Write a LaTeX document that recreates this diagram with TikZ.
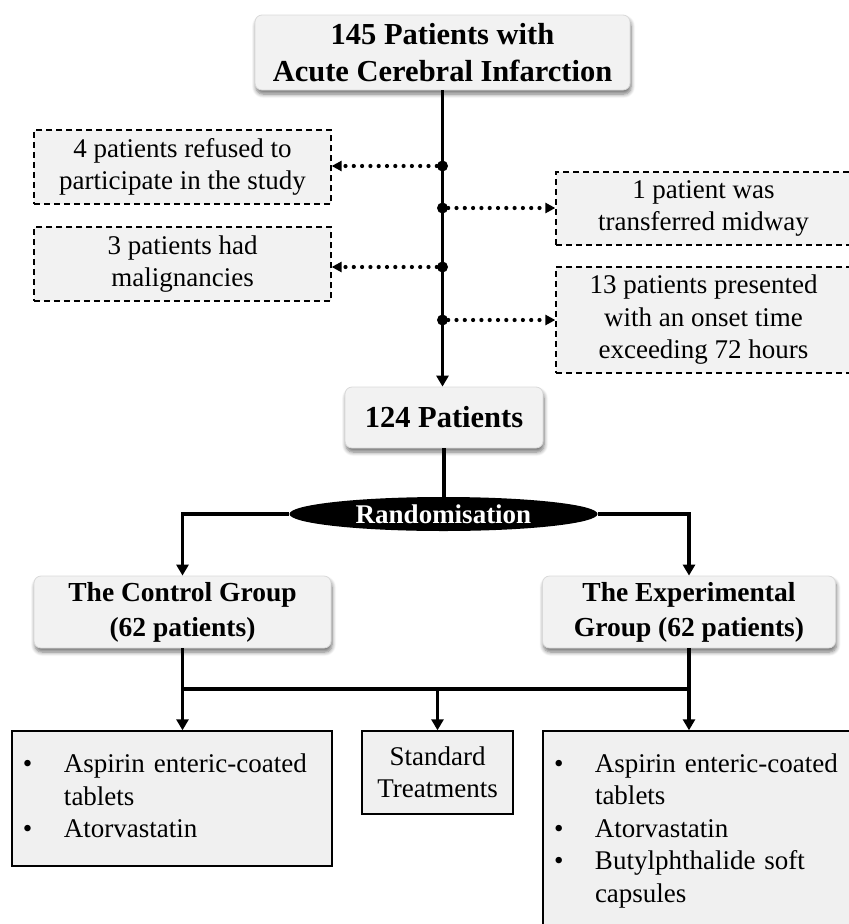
\documentclass[tikz,border=0pt]{standalone}
\usepackage{fontspec}
\setmainfont{Liberation Serif}
\usetikzlibrary{arrows.meta,shapes.geometric,shadows.blur}
\begin{document}
\begin{tikzpicture}[x=1pt,y=-1pt,
  rbox/.style={draw=black!15, line width=0.8pt, fill=black!5, rounded corners=7pt,
    blur shadow={shadow xshift=1pt, shadow yshift=-4pt, shadow blur radius=4pt, shadow blur steps=6, shadow opacity=55},
    align=center, inner sep=0pt},
  bigfont/.style={font=\bfseries\fontsize{30.5}{37}\selectfont},
  grpfont/.style={font=\bfseries\fontsize{27.5}{35}\selectfont},
  exbox/.style={draw, dash pattern=on 6pt off 4pt, line width=1.3pt, fill=black!5,
    font=\fontsize{27}{32.5}\selectfont, align=center, inner sep=0pt},
  lbox/.style={draw, line width=1.4pt, fill=black!6, font=\fontsize{27}{32.5}\selectfont, inner xsep=11pt, inner ysep=0pt},
  dot/.style={circle, fill=black, inner sep=0pt, minimum size=11pt},
  main/.style={line width=3.6pt},
  arr/.style={main, -{Triangle[length=11pt,width=12pt]}},
  dotarr/.style={line width=4.2pt, dash pattern=on 0pt off 8.3pt, line cap=round, -{Triangle[length=10pt,width=10pt]}}
]
\useasboundingbox (0,0) rectangle (849,924);

% top and middle boxes
\node[rbox, bigfont, minimum width=375pt, minimum height=75pt] (top) at (442.5,52.5) {145 Patients with\\Acute Cerebral Infarction};
\node[rbox, bigfont, minimum width=198pt, minimum height=61pt] (n124) at (444,417.5) {124 Patients};

% exclusion boxes
\node[exbox, minimum width=297pt, minimum height=74pt] (ex1) at (182.5,167) {4 patients refused to\\participate in the study};
\node[exbox, minimum width=297pt, minimum height=74pt] (ex2) at (182.5,264) {3 patients had\\malignancies};
\node[exbox, minimum width=295pt, minimum height=73pt] (ex3) at (703.5,208.5) {1 patient was\\transferred midway};
\node[exbox, minimum width=295pt, minimum height=106pt] (ex4) at (703.5,320) {13 patients presented\\with an onset time\\exceeding 72 hours};

% main line
\draw[arr] (top.south) -- (top.south |- n124.north);
\node[dot] (d1) at (442.5,166) {};
\node[dot] (d2) at (442.5,208) {};
\node[dot] (d3) at (442.5,267) {};
\node[dot] (d4) at (442.5,320) {};
\draw[dotarr] (d1) -- (d1 -| ex1.east);
\draw[dotarr] (d2) -- (d2 -| ex3.west);
\draw[dotarr] (d3) -- (d3 -| ex2.east);
\draw[dotarr] (d4) -- (d4 -| ex4.west);

% randomisation
\node[ellipse, fill=black, minimum width=308pt, minimum height=34pt, inner sep=0pt, text=white,
  font=\bfseries\fontsize{27}{32}\selectfont] (rand) at (443.5,514) {Randomisation};
\draw[main] (n124.south) -- (n124.south |- rand.north);

% groups
\node[rbox, grpfont, minimum width=297pt, minimum height=72pt] (ctrl) at (182.5,612) {The Control Group\\(62 patients)};
\node[rbox, grpfont, minimum width=293pt, minimum height=72pt] (exp) at (689,612) {The Experimental\\Group (62 patients)};
\draw[arr] (rand.west) -| (ctrl.north);
\draw[arr] (rand.east) -| (exp.north);

% treatment boxes
\node[lbox, minimum width=320pt, minimum height=135pt, text width=298pt, align=left] (lb) at (172,798.5)
  {\begin{tabular}{@{}p{41pt}@{}l@{}}\textbullet&Aspirin enteric-coated\\&tablets\\\textbullet&Atorvastatin\end{tabular}};
\node[lbox, minimum width=151pt, minimum height=83pt, align=center] (mid) at (437.5,772.5) {Standard\\Treatments};
\node[lbox, minimum width=308pt, minimum height=199pt, text width=286pt, align=left] (rb) at (697,830.5)
  {\begin{tabular}{@{}p{41pt}@{}l@{}}\textbullet&Aspirin enteric-coated\\&tablets\\\textbullet&Atorvastatin\\\textbullet&Butylphthalide soft\\&capsules\end{tabular}};

\coordinate (h) at (0,689);
\draw[main] (ctrl.south) -- (ctrl.south |- h) -- (exp.south |- h) -- (exp.south);
\draw[arr] (ctrl.south |- h) -- (ctrl.south |- lb.north);
\draw[arr] (mid.north |- h) -- (mid.north);
\draw[arr] (exp.south |- h) -- (exp.south |- rb.north);
\end{tikzpicture}
\end{document}
